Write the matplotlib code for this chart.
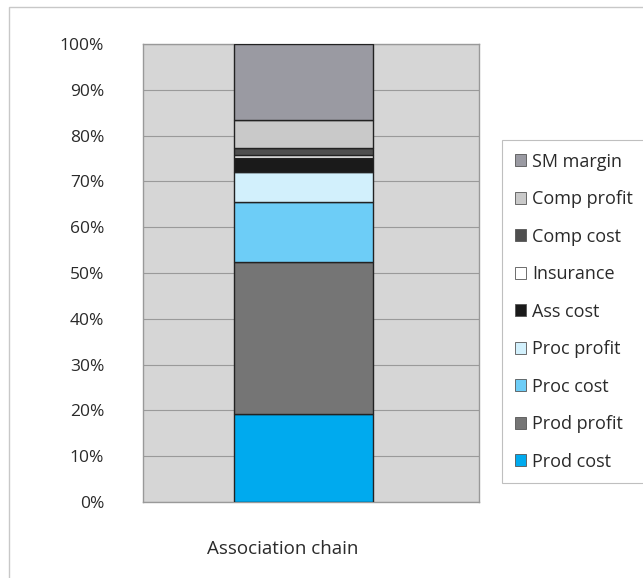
import matplotlib.pyplot as plt
import matplotlib.transforms as mtransforms
from matplotlib.patches import Rectangle

plt.rcParams['font.family'] = ['Open Sans', 'DejaVu Sans']

# stacked from bottom to top, in percent
segments = ['Prod cost', 'Prod profit', 'Proc cost', 'Proc profit', 'Ass cost',
            'Insurance', 'Comp cost', 'Comp profit', 'SM margin']
shares = [19.3, 33.1, 13.2, 6.5, 2.9, 0.7, 1.7, 6.1, 16.5]
colors = ['#00aaee', '#757575', '#6dcdf7', '#d2f0fc', '#1a1a1a',
          '#ffffff', '#4f4f4f', '#c9c9c9', '#9a9aa2']
category = ['Association chain']
yticks = list(range(0, 101, 10))

fig = plt.figure(figsize=(6.43, 5.78), dpi=100)
fig.patches.append(Rectangle((9 / 643, -0.01), 1.0, 1 - 7 / 578 + 0.01,
                             transform=fig.transFigure, fill=False,
                             edgecolor='#c8c8c8', linewidth=1.0))

ax = fig.add_axes([143 / 643, 1 - 502 / 578, 336 / 643, 458 / 578])
ax.set_facecolor('#d6d6d6')

bottom = 0
handles = []
for name, val, col in zip(segments, shares, colors):
    b = ax.bar(0, val, width=0.414, bottom=bottom, color=col,
               edgecolor='#222222', linewidth=1.0, label=name, zorder=3)
    handles.append(b)
    bottom += val

ax.set_xlim(-0.478, 0.522)
ax.set_ylim(0, 100)
ax.set_yticks(yticks)
ax.set_yticklabels([f'{t}%' for t in yticks])
ax.yaxis.grid(True, color='#9a9a9a', linewidth=0.8, zorder=0)
ax.set_axisbelow(True)
ax.tick_params(axis='y', length=0, pad=28, labelsize=12.5, labelcolor='#2a2a2a')
ax.set_xticks([0])
ax.set_xticklabels(category)
ax.tick_params(axis='x', length=0, pad=27, labelsize=13.5, labelcolor='#2a2a2a')
shift = mtransforms.ScaledTranslation(-21 / 100, 0, fig.dpi_scale_trans)
for lab in ax.get_xticklabels():
    lab.set_transform(lab.get_transform() + shift)
for s in ax.spines.values():
    s.set_color('#999999')
    s.set_linewidth(1.0)

leg = fig.legend(handles[::-1], segments[::-1],
                 loc='upper left', bbox_to_anchor=(502 / 643, 1 - 140 / 578),
                 frameon=True, fancybox=False, fontsize=13,
                 labelspacing=1.08, handlelength=0.65, handleheight=0.65,
                 handletextpad=0.33, borderpad=0.7, borderaxespad=0)
leg.get_frame().set_edgecolor('#b0b0b0')
leg.get_frame().set_linewidth(0.8)
for t in leg.get_texts():
    t.set_color('#2a2a2a')
for h in leg.legend_handles:
    h.set_edgecolor('#555555')
    h.set_linewidth(0.6)

fig.savefig('out.png', dpi=100)
